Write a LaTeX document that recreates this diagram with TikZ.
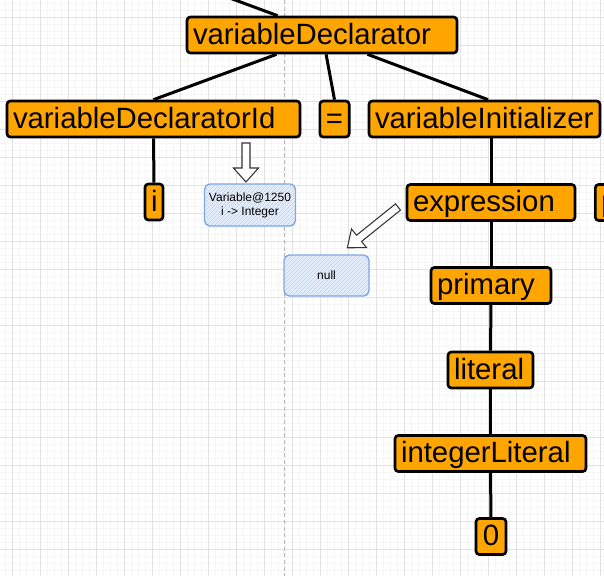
\documentclass[tikz,border=0pt]{standalone}
\usepackage{fontspec}
\setmainfont{Liberation Sans}
\usetikzlibrary{positioning,calc,patterns}
\definecolor{tok-orange}{HTML}{FFA500}
\definecolor{note-blue}{HTML}{E6EEFB}
\definecolor{note-edge}{HTML}{7EA6E0}
\definecolor{note-hatch}{HTML}{BDD1F0}
\definecolor{grid-major}{HTML}{E2E2E2}
\definecolor{grid-minor}{HTML}{F5F5F5}
\tikzset{
    tok/.style={draw=black, fill=tok-orange, line width=2pt, rounded corners=2.5pt,
        font=\fontsize{22}{26}\selectfont, align=left, inner xsep=4.5pt, inner ysep=3.75pt,
        text height=16.5pt, text depth=3pt},
    note/.style={draw=note-edge, line width=1pt, rounded corners=4pt, preaction={fill=note-blue},
        pattern=north east lines, pattern color=note-hatch,
        font=\fontsize{9}{10.5}\selectfont, align=center},
    link/.style={line width=2.25pt},
    hollow/.style={draw=black!80, fill=white, line width=0.8pt, line join=miter},
}

\begin{document}
\begin{tikzpicture}[x=0.75pt, y=-0.75pt]
    \useasboundingbox (0,0) rectangle (604,576);
    \clip (0,0) rectangle (604,576);

    % background grid
    \foreach \g in {5,12,...,603} \draw[grid-minor, line width=0.5pt] (\g,0) -- (\g,576);
    \foreach \g in {3,10,...,575} \draw[grid-minor, line width=0.5pt] (0,\g) -- (604,\g);
    \foreach \g in {12,40,...,603} \draw[grid-major, line width=0.75pt] (\g,0) -- (\g,576);
    \foreach \g in {17,45,...,575} \draw[grid-major, line width=0.75pt] (0,\g) -- (604,\g);
    \draw[gray!55, line width=0.6pt, dash pattern=on 3pt off 2pt] (284,0) -- (284,576);

    \node[tok, text width=193.5pt] (varDecl) at (322,35) {variableDeclarator};
    \node[tok, text width=210.75pt] (varDeclId) at (153.5,119) {variableDeclaratorId};
    \node[tok, align=center, text width=13pt] (assign) at (334.5,119) {=};
    \node[tok, text width=164.25pt] (varInit) at (484.5,119) {variableInitializer};
    \node[tok, align=center, text width=4.5pt] (ident) at (154,202) {i};
    \node[tok, text width=117pt] (expr) at (491,202.5) {expression};
    \node[tok, text width=81pt, anchor=west] (nextPrim) at (594,202.5) {primary};
    \node[tok, text width=81pt] (prim) at (491,285.5) {primary};
    \node[tok, text width=54.75pt] (lit) at (490.5,370) {literal};
    \node[tok, text width=134.25pt] (intLit) at (490.5,453.5) {integerLiteral};
    \node[tok, align=center, text width=13.5pt] (zero) at (491,536.5) {0};

    \node[note, minimum width=63pt, minimum height=31.5pt] (varInfo) at (250,205) {Variable@1250\\i -> Integer};
    \node[note, minimum width=63.75pt, minimum height=30.75pt] (nullInfo) at (326.5,275.5) {null};

    \coordinate (upper) at (227,-3);
    \draw[link] (upper) -- ($(varDecl.north west)!0.337!(varDecl.north east)$);
    \draw[link] ($(varDecl.south west)!0.333!(varDecl.south east)$) -- (varDeclId.north);
    \draw[link] ($(varDecl.south west)!0.515!(varDecl.south east)$) -- (assign.north);
    \draw[link] ($(varDecl.south west)!0.667!(varDecl.south east)$) -- ($(varInit.north west)!0.515!(varInit.north east)$);
    \draw[link] (varDeclId) -- (ident);
    \draw[link] (expr.north |- varInit.south) -- (expr.north);
    \foreach \a/\b in {expr/prim, prim/lit, lit/intLit, intLit/zero}
        \draw[link] (\a) -- (\b);

    % hollow arrows
    \begin{scope}[shift={(246,143)}]
        \draw[hollow] (-4,0) -- (-4,25) -- (-12.5,25) -- (0,39) -- (12.5,25) -- (4,25) -- (4,0) -- cycle;
    \end{scope}
    \begin{scope}[shift={(398,207)}, rotate=-51.2]
        \draw[hollow] (-4,0) -- (-4,50) -- (-12,50) -- (0,65) -- (12,50) -- (4,50) -- (4,0) -- cycle;
    \end{scope}

\end{tikzpicture}
\end{document}
